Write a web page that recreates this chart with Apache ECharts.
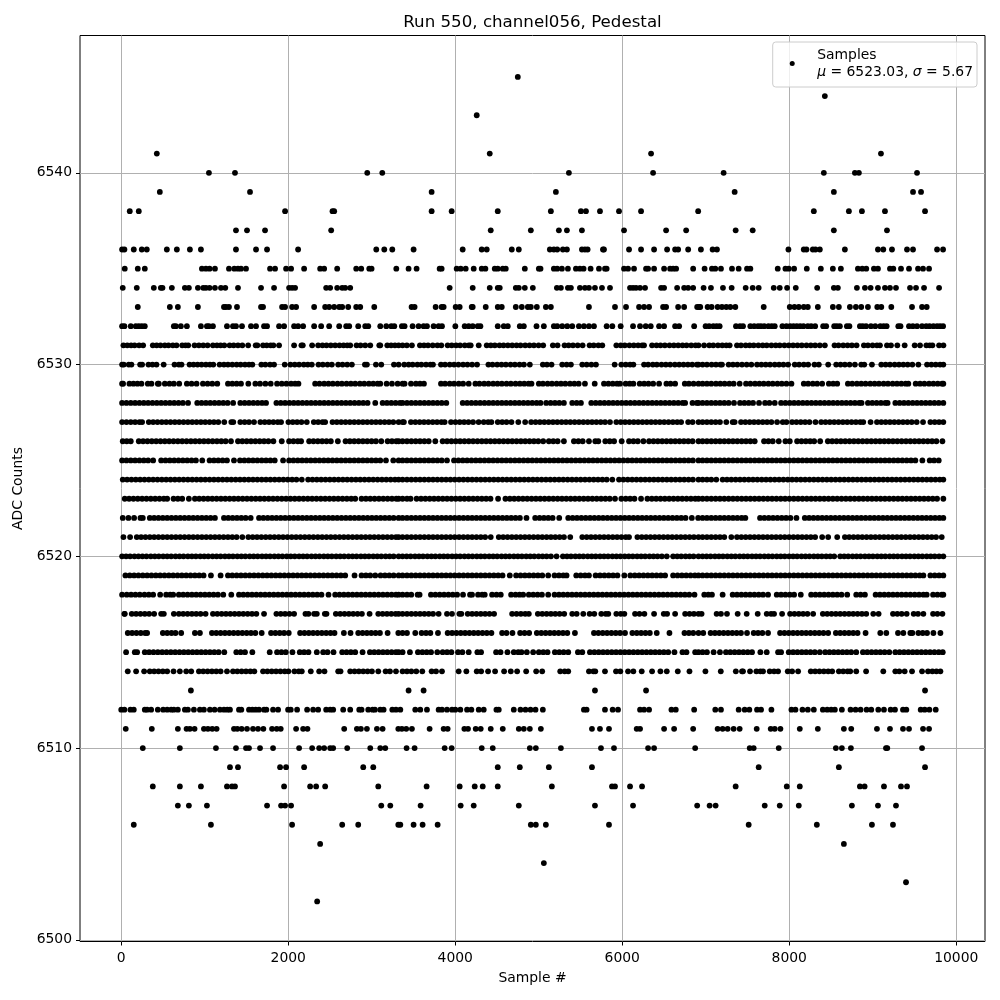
<!DOCTYPE html>
<html><head><meta charset="utf-8">
<script src="https://cdn.jsdelivr.net/npm/echarts@6/dist/echarts.min.js"></script>
<style>html,body{margin:0;padding:0;background:#fff}#c{width:1000px;height:1000px}</style>
</head><body><div id="c"></div>
<script>
const chartTitle = "Run 550, channel056, Pedestal";
const xTicks = [0,2000,4000,6000,8000,10000];
const yTicks = [6500,6510,6520,6530,6540];
const s6545=[4749];
const s6544=[8426];
const s6543=[4257];
const s6541=[426,4413,6345,9098];
const s6540=[1050,1362,2946,3126,5361,6369,7214,8414,8786,8834,9530];
const s6539=[462,1542,3717,5205,7346,8534,9482,9578];
const s6538=[102,210,1962,2530,2550,3717,3957,4509,5145,5505,5565,5733,5961,6225,6909,8294,8714,8870,9146,9626];
const s6537=[1374,1506,1722,2514,4425,4905,5241,5337,5517,6021,6525,6765,7358,7562,8534,9170];
const s6536=[10,38,150,246,306,546,666,822,954,1374,1614,1746,2118,3054,3150,3246,3501,4089,4317,4377,4677,4761,5133,5181,5221,5289,5337,5517,5553,5585,5769,5781,6081,6225,6381,6537,6633,6669,6789,6942,7082,7134,7990,8174,8206,8282,8314,8366,8666,9062,9126,9230,9410,9482,9770,9842];
const s6535=[42,198,282,966,1014,1058,1122,1290,1354,1398,1434,1494,1782,1842,1974,2034,2190,2382,2430,2586,2814,2874,2970,2998,3294,3441,3537,3813,3837,4017,4065,4125,4221,4317,4361,4473,4509,4569,4605,4833,5001,5021,5181,5221,5277,5349,5445,5493,5537,5621,5721,5793,5813,6021,6069,6141,6285,6309,6381,6501,6573,6609,6645,6849,6986,7074,7114,7182,7314,7394,7494,7534,7862,7954,7994,8058,8210,8378,8522,8618,8822,8874,8922,9014,9062,9206,9246,9338,9434,9542,9602,9674];
const s6534=[18,186,390,474,494,606,762,810,918,982,1014,1058,1122,1194,1246,1398,1674,1830,2010,2046,2082,2454,2502,2586,2646,2682,2742,3933,4209,4413,4509,4533,4725,4761,4833,4929,5217,5265,5349,5385,5493,5553,5601,5673,5757,5853,6093,6129,6165,6213,6273,6465,6501,6657,6741,6789,6849,6974,7062,7206,7310,7478,7562,7634,7814,7886,7974,8078,8334,8534,8582,8810,8906,8974,9062,9146,9206,9278,9446,9518,9614,9794];
const s6533=[198,582,678,918,1230,1254,1290,1386,1674,1698,1926,1962,2046,2094,2310,2442,2490,2550,2610,2646,2718,2814,2862,3030,3477,3513,3765,3837,3861,4005,4053,4197,4209,4365,4509,4557,4725,4797,4869,4905,4977,5085,5145,5601,5913,6045,6201,6261,6321,6489,6525,6669,6741,6897,6921,6934,7022,7070,7142,7194,7246,7294,7354,7694,8006,8062,8114,8174,8222,8342,8522,8594,8726,8798,8862,8942,9054,9102,9222,9470,9590,9646];
const s6532=[10,38,114,174,210,246,282,630,654,714,786,954,1026,1050,1098,1266,1338,1374,1446,1554,1614,1710,1746,1890,1950,2070,2118,2178,2310,2394,2490,2610,2694,2730,2838,2922,2958,3102,3174,3234,3270,3361,3393,3489,3561,3621,3661,3741,3801,3841,4001,4113,4161,4209,4269,4301,4509,4581,4629,4773,4821,4973,5061,5181,5221,5281,5341,5401,5481,5541,5601,5661,5813,5881,5981,6129,6213,6281,6341,6441,6501,6633,6681,6861,6998,7040,7090,7130,7166,7362,7410,7446,7534,7580,7626,7660,7700,7750,7790,7826,7918,7966,8010,8050,8090,8130,8170,8222,8262,8310,8406,8442,8538,8570,8606,8690,8720,8846,8880,8920,8978,9030,9090,9130,9166,9306,9332,9434,9480,9530,9590,9640,9680,9726,9770,9806,9842];
const s6531=[26,72,118,160,214,262,378,424,470,522,566,618,662,730,770,802,878,930,982,1034,1098,1146,1190,1234,1298,1346,1398,1450,1520,1610,1630,1698,1742,1790,1822,1890,2070,2158,2174,2286,2358,2410,2458,2510,2562,2614,2662,2706,2742,2818,2866,2922,2982,3090,3102,3186,3232,3278,3322,3369,3420,3481,3577,3626,3674,3730,3786,3833,3909,3958,4010,4058,4114,4162,4185,4281,4377,4426,4474,4530,4578,4630,4682,4734,4782,4838,4890,4942,4998,5053,5169,5225,5309,5358,5410,5466,5525,5609,5658,5714,5761,5929,5982,6030,6086,6138,6190,6238,6261,6357,6410,6458,6510,6566,6618,6670,6722,6770,6826,6878,6913,6980,7042,7090,7146,7198,7246,7286,7374,7422,7478,7526,7574,7630,7682,7730,7786,7838,7886,7942,7994,8046,8098,8150,8206,8258,8310,8366,8426,8542,8590,8646,8698,8750,8806,8894,8942,8998,9050,9086,9170,9218,9294,9382,9502,9566,9642,9682,9714,9794,9846];
const s6530=[10,30,90,122,226,250,326,374,422,508,638,690,722,818,866,914,962,1014,1062,1102,1178,1230,1278,1330,1382,1430,1482,1530,1570,1678,1726,1782,1830,1958,2026,2078,2130,2186,2234,2282,2362,2414,2470,2522,2598,2650,2706,2762,2918,2942,3050,3114,3266,3322,3389,3442,3490,3546,3594,3650,3702,3733,3829,3878,3934,3986,4038,4094,4146,4202,4261,4397,4446,4502,4554,4606,4662,4714,4770,4822,4893,5049,5098,5153,5281,5334,5385,5521,5574,5630,5685,5909,5989,6042,6094,6133,6261,6310,6366,6414,6470,6522,6574,6630,6682,6734,6786,6838,6894,6913,6962,7014,7070,7122,7174,7194,7274,7326,7378,7434,7490,7546,7614,7666,7718,7770,7826,7878,7930,7986,8066,8118,8174,8226,8302,8354,8466,8562,8614,8666,8722,8786,8862,8898,8990,9102,9154,9206,9262,9314,9366,9418,9474,9546,9650,9702,9754,9806,9845];
const s6529=[10,22,98,146,194,242,318,362,438,450,522,578,630,694,786,842,902,978,1034,1090,1150,1278,1330,1382,1434,1522,1606,1662,1726,1790,1866,1922,1978,2034,2082,2122,2322,2374,2430,2482,2534,2590,2642,2698,2750,2802,2858,2910,2966,3018,3070,3102,3178,3242,3310,3369,3393,3470,3529,3578,3625,3829,3878,3934,3986,4042,4094,4161,4241,4290,4346,4398,4454,4506,4558,4614,4666,4722,4774,4826,4878,4913,5001,5050,5106,5158,5214,5266,5318,5374,5426,5478,5553,5670,5781,5834,5886,5938,5973,6041,6090,6133,6209,6262,6314,6370,6441,6529,6578,6633,6749,6798,6854,6913,6962,7014,7066,7122,7174,7226,7282,7334,7406,7482,7534,7590,7642,7694,7750,7802,7858,7910,7966,8026,8174,8226,8282,8334,8394,8474,8526,8574,8702,8754,8810,8862,8914,8970,9022,9074,9130,9182,9238,9290,9342,9394,9426,9514,9566,9618,9674,9726,9778,9830,9845];
const s6528=[10,62,114,166,218,270,322,374,426,478,530,582,634,686,738,800,910,962,1014,1066,1118,1170,1222,1274,1340,1426,1478,1530,1582,1634,1686,1734,1858,1910,1962,2014,2066,2118,2170,2222,2274,2326,2378,2430,2482,2534,2586,2638,2690,2742,2794,2846,2898,2950,3042,3130,3182,3234,3286,3338,3369,3422,3474,3526,3578,3630,3682,3734,3786,3838,3893,4089,4142,4194,4246,4298,4350,4402,4454,4506,4558,4610,4662,4714,4766,4818,4870,4922,4974,5021,5089,5142,5194,5246,5301,5401,5454,5505,5629,5682,5734,5786,5838,5890,5942,5994,6046,6098,6150,6202,6254,6306,6358,6410,6462,6514,6566,6618,6670,6722,6753,6841,6894,6913,6962,7014,7066,7118,7170,7222,7274,7338,7410,7462,7514,7566,7638,7710,7762,7826,7902,7954,8006,8058,8110,8162,8214,8266,8318,8370,8422,8474,8526,8578,8630,8682,8734,8786,8838,8866,8942,8994,9046,9098,9150,9178,9270,9322,9374,9426,9478,9530,9582,9634,9686,9738,9790,9845];
const s6527=[10,62,114,166,218,250,330,382,434,486,538,590,642,694,746,798,850,902,954,1006,1058,1110,1162,1234,1318,1342,1426,1478,1530,1590,1666,1718,1770,1822,1874,1914,2002,2054,2106,2158,2222,2306,2358,2410,2442,2530,2582,2634,2686,2738,2790,2842,2894,2946,2998,3050,3102,3154,3206,3258,3322,3369,3385,3469,3522,3574,3626,3678,3730,3782,3834,3873,3949,4002,4054,4106,4158,4213,4280,4341,4394,4433,4509,4562,4614,4673,4755,4837,4909,4962,5014,5066,5118,5170,5222,5274,5326,5378,5430,5482,5534,5586,5638,5690,5742,5794,5853,5929,5982,6034,6086,6138,6190,6242,6294,6346,6398,6450,6502,6554,6606,6658,6705,6789,6842,6913,6962,7014,7066,7118,7170,7246,7322,7346,7422,7474,7526,7578,7630,7682,7734,7786,7854,7922,7966,8034,8086,8138,8190,8242,8314,8382,8434,8486,8538,8590,8642,8694,8746,8798,8850,8886,8974,9050,9102,9154,9206,9258,9310,9362,9414,9466,9526,9602,9690,9742,9794,9845];
const s6526=[18,66,114,210,262,314,366,418,470,522,574,626,678,730,782,834,886,938,990,1042,1094,1146,1198,1250,1314,1398,1450,1502,1554,1606,1658,1710,1762,1822,1922,2010,2062,2114,2154,2250,2302,2354,2406,2458,2510,2594,2686,2738,2790,2842,2894,2946,2998,3050,3114,3190,3242,3294,3322,3369,3422,3474,3526,3578,3630,3682,3761,3849,3902,3954,4006,4058,4110,4162,4214,4266,4318,4370,4422,4474,4526,4578,4630,4682,4734,4786,4838,4890,4942,4994,5053,5121,5174,5226,5301,5421,5474,5526,5601,5677,5713,5797,5850,5902,5993,6081,6134,6186,6253,6321,6374,6426,6478,6530,6582,6634,6686,6738,6790,6842,6913,6962,7014,7066,7118,7170,7222,7274,7326,7378,7430,7482,7534,7586,7698,7750,7802,7874,7954,8006,8094,8146,8198,8250,8298,8370,8462,8514,8566,8618,8670,8722,8774,8826,8878,8930,8982,9034,9086,9138,9190,9242,9294,9346,9398,9450,9502,9554,9606,9658,9710,9762,9834];
const s6525=[10,62,114,166,218,270,322,382,478,530,582,634,686,738,790,842,894,970,1058,1110,1162,1214,1266,1350,1422,1474,1526,1578,1630,1682,1734,1786,1838,1938,2010,2062,2114,2166,2218,2270,2322,2374,2426,2478,2530,2582,2634,2686,2738,2790,2842,2894,2946,2998,3050,3102,3170,3258,3322,3369,3422,3474,3526,3578,3630,3682,3734,3786,3838,3901,3985,4038,4090,4142,4194,4246,4298,4350,4402,4454,4506,4558,4610,4662,4714,4766,4818,4870,4922,4974,5026,5078,5130,5182,5234,5286,5338,5390,5442,5494,5546,5598,5650,5702,5754,5806,5858,5910,5962,6014,6066,6118,6170,6222,6274,6326,6378,6430,6482,6534,6586,6638,6690,6742,6794,6846,6913,6962,7014,7066,7118,7170,7222,7274,7326,7378,7430,7482,7534,7586,7638,7690,7742,7794,7846,7898,7950,8002,8054,8106,8158,8210,8262,8314,8366,8418,8470,8522,8574,8626,8678,8730,8782,8834,8886,8938,8990,9042,9094,9146,9198,9250,9302,9354,9406,9458,9510,9594,9682,9734,9790];
const s6524=[18,70,122,174,226,278,330,382,434,486,538,590,642,694,746,798,850,902,954,1006,1058,1110,1162,1214,1266,1318,1370,1422,1474,1526,1578,1630,1682,1734,1786,1838,1890,1942,1994,2046,2098,2162,2238,2290,2342,2394,2446,2498,2550,2602,2654,2706,2758,2810,2862,2914,2966,3018,3070,3122,3174,3226,3278,3322,3369,3422,3474,3526,3578,3630,3682,3734,3786,3838,3890,3942,3994,4046,4098,4150,4202,4254,4306,4358,4410,4462,4514,4566,4618,4670,4722,4774,4826,4878,4930,4982,5034,5086,5138,5190,5242,5294,5346,5398,5450,5502,5554,5606,5658,5710,5762,5814,5881,5961,6014,6066,6118,6170,6222,6274,6326,6378,6430,6482,6534,6586,6638,6690,6742,6794,6846,6913,6962,7014,7066,7126,7202,7254,7306,7358,7410,7462,7514,7566,7618,7670,7722,7774,7826,7878,7930,7982,8034,8086,8138,8190,8242,8294,8346,8398,8450,8502,8554,8606,8658,8710,8762,8814,8866,8918,8970,9022,9074,9126,9178,9230,9282,9334,9386,9438,9490,9542,9594,9646,9698,9750,9802,9845];
const s6523=[42,94,146,198,250,302,354,406,458,510,550,626,678,730,810,882,934,986,1038,1090,1142,1194,1246,1298,1350,1402,1454,1506,1558,1610,1662,1714,1766,1818,1870,1922,1974,2026,2078,2130,2182,2234,2286,2338,2390,2442,2494,2546,2598,2650,2702,2754,2802,2878,2930,2982,3034,3086,3138,3190,3242,3294,3322,3369,3422,3465,3537,3590,3642,3694,3746,3798,3850,3902,3954,4006,4058,4110,4162,4214,4266,4318,4370,4422,4513,4601,4654,4706,4758,4810,4862,4914,4966,5018,5070,5122,5174,5226,5278,5330,5382,5434,5486,5538,5590,5642,5694,5746,5798,5850,5913,5989,6042,6094,6146,6225,6301,6354,6406,6458,6510,6562,6614,6666,6718,6770,6822,6874,6913,6962,7014,7066,7118,7170,7222,7274,7326,7378,7430,7482,7534,7586,7638,7690,7742,7794,7846,7898,7950,8002,8054,8106,8158,8210,8262,8314,8366,8418,8470,8522,8574,8626,8678,8730,8782,8834,8886,8938,8990,9042,9094,9146,9198,9250,9302,9354,9406,9458,9510,9562,9614,9666,9718,9770,9845];
const s6522=[18,86,154,230,258,342,394,446,498,550,602,654,706,758,810,862,914,966,1018,1070,1122,1230,1282,1334,1386,1438,1490,1550,1650,1702,1754,1806,1858,1910,1962,2014,2066,2118,2170,2222,2274,2326,2378,2430,2482,2534,2586,2638,2690,2742,2794,2846,2898,2950,3002,3054,3106,3158,3210,3262,3322,3369,3422,3474,3526,3578,3630,3682,3734,3786,3838,3890,3942,3994,4046,4098,4150,4202,4254,4306,4358,4410,4462,4514,4566,4618,4670,4722,4774,4853,4957,5010,5062,5114,5166,5245,5353,5406,5458,5510,5562,5614,5666,5718,5770,5822,5874,5926,5978,6030,6082,6134,6186,6238,6290,6342,6394,6446,6498,6550,6602,6654,6706,6758,6833,6909,6962,7014,7066,7118,7170,7222,7274,7326,7378,7430,7474,7650,7702,7754,7806,7858,7910,7962,8014,8086,8186,8238,8290,8342,8394,8446,8498,8550,8602,8654,8706,8758,8810,8862,8914,8966,9018,9070,9122,9174,9226,9278,9330,9382,9434,9486,9538,9590,9642,9694,9746,9798,9845];
const s6521=[26,106,186,238,290,342,394,446,498,550,602,654,706,758,810,862,914,966,1018,1070,1122,1174,1226,1278,1330,1382,1450,1522,1574,1626,1678,1730,1782,1834,1886,1938,1990,2042,2094,2146,2198,2250,2302,2354,2406,2458,2510,2562,2614,2666,2718,2770,2822,2874,2926,2978,3030,3082,3134,3186,3238,3290,3322,3369,3422,3474,3526,3578,3630,3682,3734,3786,3838,3890,3942,3994,4046,4098,4150,4202,4254,4306,4358,4425,4521,4574,4626,4678,4730,4782,4834,4886,4938,4990,5042,5094,5146,5198,5250,5302,5377,5521,5574,5626,5678,5730,5782,5834,5886,5938,5990,6042,6081,6181,6234,6286,6338,6390,6442,6494,6546,6598,6650,6702,6754,6806,6858,6913,6962,7014,7066,7118,7170,7222,7306,7374,7426,7478,7530,7582,7634,7686,7738,7790,7842,7894,7946,7998,8050,8102,8154,8206,8258,8310,8394,8466,8574,8666,8718,8770,8822,8874,8926,8978,9030,9082,9134,9186,9238,9290,9342,9394,9446,9498,9550,9602,9654,9706,9758,9826];
const s6520=[10,58,106,158,206,254,302,354,402,450,502,550,598,650,698,746,798,846,894,946,994,1042,1094,1142,1190,1242,1290,1338,1390,1438,1486,1538,1586,1634,1686,1734,1782,1834,1882,1930,1982,2030,2078,2130,2178,2226,2278,2326,2374,2426,2474,2522,2574,2622,2670,2722,2770,2818,2870,2918,2966,3018,3066,3114,3166,3214,3262,3322,3369,3418,3466,3518,3566,3614,3666,3714,3762,3814,3862,3910,3962,4010,4058,4110,4158,4206,4258,4306,4354,4406,4454,4502,4554,4602,4650,4702,4750,4798,4850,4898,4946,4998,5046,5094,5146,5213,5289,5338,5386,5438,5486,5534,5586,5634,5682,5734,5782,5830,5882,5930,5978,6030,6078,6126,6178,6226,6274,6326,6374,6422,6474,6533,6609,6658,6706,6758,6806,6854,6913,6962,7010,7058,7110,7158,7206,7258,7306,7354,7406,7454,7502,7554,7602,7650,7702,7750,7798,7850,7898,7946,7998,8046,8094,8146,8194,8242,8294,8342,8390,8442,8490,8538,8610,8658,8706,8758,8806,8854,8906,8954,9002,9054,9102,9150,9202,9250,9298,9350,9398,9446,9498,9546,9594,9646,9694,9742,9794,9845];
const s6519=[50,102,154,206,258,310,362,414,466,518,570,622,674,726,778,830,882,934,986,1074,1190,1278,1330,1382,1434,1486,1538,1590,1642,1694,1746,1798,1850,1902,1954,2006,2058,2110,2162,2214,2266,2318,2370,2422,2474,2526,2578,2630,2682,2794,2878,2930,2982,3042,3106,3158,3210,3262,3322,3369,3422,3474,3526,3578,3630,3682,3734,3786,3838,3890,3942,3994,4046,4098,4150,4202,4254,4306,4358,4410,4462,4514,4566,4653,4729,4782,4834,4886,4938,4990,5042,5113,5189,5242,5294,5333,5449,5502,5554,5601,5681,5734,5786,5838,5890,5942,6025,6097,6150,6202,6254,6306,6358,6410,6462,6513,6609,6662,6714,6766,6818,6870,6913,6962,7014,7066,7118,7170,7222,7274,7326,7378,7430,7482,7534,7586,7638,7690,7742,7794,7846,7898,7950,8002,8054,8106,8158,8210,8262,8314,8366,8418,8470,8522,8574,8626,8678,8730,8782,8834,8886,8938,8990,9042,9094,9146,9198,9250,9302,9354,9406,9458,9510,9562,9606,9690,9742,9794,9845];
const s6518=[10,66,118,170,222,278,330,382,466,538,586,622,690,742,794,846,898,950,1002,1054,1106,1158,1222,1318,1410,1462,1514,1566,1618,1670,1722,1774,1826,1878,1930,1982,2034,2086,2138,2190,2242,2294,2346,2398,2482,2562,2614,2666,2718,2770,2822,2874,2926,2978,3030,3082,3134,3186,3238,3290,3322,3369,3422,3473,3549,3573,3709,3762,3814,3866,3918,3970,4022,4093,4177,4201,4273,4322,4353,4441,4494,4545,4669,4722,4770,4813,4881,4934,4986,5038,5113,5189,5242,5294,5346,5398,5450,5502,5554,5606,5658,5710,5762,5814,5866,5918,5970,6022,6074,6126,6178,6230,6282,6334,6386,6438,6490,6542,6594,6646,6698,6750,6802,6865,6982,7030,7074,7202,7322,7374,7426,7478,7530,7582,7634,7686,7746,7850,7902,7954,8006,8058,8138,8262,8314,8366,8418,8470,8522,8574,8626,8694,8802,8854,8906,9034,9086,9138,9190,9242,9294,9346,9398,9450,9502,9554,9606,9646,9722,9774,9826,9845];
const s6517=[38,42,126,178,230,282,334,394,478,510,630,690,742,794,846,898,950,1010,1098,1150,1202,1254,1306,1358,1410,1462,1514,1566,1618,1710,1858,1910,1962,2014,2070,2206,2242,2310,2342,2438,2458,2570,2622,2674,2726,2778,2830,2882,2974,3078,3130,3182,3234,3286,3322,3369,3422,3474,3526,3578,3630,3682,3734,3801,3901,3961,4049,4073,4149,4202,4254,4306,4358,4410,4465,4681,4734,4786,4838,4881,4989,5042,5094,5146,5198,5250,5305,5401,5454,5533,5609,5665,5749,5802,5833,5929,5982,6025,6153,6206,6265,6381,6497,6537,6633,6753,6806,6858,6913,6950,7130,7182,7254,7382,7490,7622,7730,7782,7818,7914,8010,8062,8114,8166,8218,8286,8402,8454,8506,8558,8610,8662,8714,8766,8818,8870,8922,9006,9070,9242,9294,9346,9406,9490,9542,9606,9722,9774,9834];
const s6516=[78,130,182,234,286,310,498,550,602,650,718,882,942,1086,1138,1190,1242,1294,1346,1398,1450,1502,1554,1606,1682,1794,1846,1898,1950,2006,2142,2194,2246,2298,2350,2402,2454,2506,2554,2666,2746,2838,2890,2942,2994,3046,3098,3190,3318,3369,3422,3521,3597,3650,3702,3793,3909,3962,4014,4066,4118,4170,4222,4274,4326,4378,4433,4561,4614,4685,4777,4830,4885,4977,5030,5082,5134,5186,5238,5290,5342,5433,5661,5714,5766,5818,5870,5922,5974,6033,6121,6174,6226,6278,6330,6413,6565,6745,6798,6850,6913,6970,7058,7110,7162,7214,7266,7318,7370,7422,7494,7574,7626,7678,7746,7890,7942,7994,8046,8098,8150,8202,8254,8306,8358,8410,8466,8558,8610,8662,8714,8766,8818,8914,9090,9162,9302,9366,9450,9474,9546,9598,9650,9726,9810];
const s6515=[58,162,190,282,334,386,438,490,542,594,646,698,750,802,854,906,958,1010,1062,1114,1166,1234,1378,1430,1482,1570,1778,1866,1918,1970,2050,2138,2190,2242,2342,2418,2470,2542,2646,2698,2750,2802,2890,2978,3030,3082,3134,3186,3238,3290,3322,3369,3457,3553,3606,3658,3710,3785,3849,3902,3954,4033,4085,4161,4265,4309,4489,4542,4625,4701,4754,4793,4857,4933,5001,5054,5105,5193,5246,5298,5353,5469,5521,5613,5666,5718,5770,5822,5874,5926,5978,6030,6082,6134,6186,6238,6290,6342,6394,6446,6498,6550,6625,6721,6769,6873,6913,6962,7014,7094,7170,7242,7294,7346,7398,7450,7502,7554,7654,7730,7866,7902,7994,8046,8098,8150,8202,8254,8306,8366,8430,8482,8534,8586,8638,8690,8742,8802,8882,8934,8986,9038,9090,9142,9198,9270,9322,9374,9426,9478,9530,9582,9634,9686,9738,9790,9838];
const s6514=[78,178,274,342,394,446,498,550,626,702,778,838,930,982,1034,1086,1138,1190,1266,1338,1390,1442,1494,1546,1594,1698,1750,1802,1854,1906,1958,2002,2074,2126,2162,2270,2370,2434,2598,2626,2742,2794,2846,2898,2950,3002,3078,3166,3218,3290,3369,3422,3474,3533,3605,3717,3770,3841,4041,4133,4257,4310,4393,4477,4585,4665,4741,4849,4969,5041,5257,5310,5353,5601,5654,5677,5793,5925,5977,6069,6133,6233,6357,6457,6533,6665,6805,6996,7180,7360,7434,7446,7530,7606,7654,7686,7766,7818,7866,7982,8034,8106,8258,8310,8362,8414,8466,8514,8594,8646,8698,8730,8802,8920,9126,9270,9318,9382,9470,9590,9662,9714,9762,9810];
const s6513=[834,3441,3621,5673,6285,9626];
const s6512=[0,38,110,150,282,310,358,438,502,550,598,630,678,762,798,870,942,990,1062,1118,1182,1230,1270,1302,1410,1438,1530,1570,1610,1650,1710,1738,1818,1878,1998,2030,2106,2226,2298,2358,2454,2502,2538,2658,2742,2850,2878,2958,3010,3038,3102,3142,3246,3290,3342,3521,3581,3661,3801,3841,3901,3961,4001,4061,4141,4193,4281,4341,4493,4521,4701,4781,4841,4901,4961,5049,5541,5573,5793,5885,5949,6213,6261,6321,6589,6641,6861,7114,7182,7394,7466,7522,7614,7662,7786,8026,8074,8158,8222,8294,8402,8454,8502,8546,8630,8734,8794,8854,8926,8982,9066,9134,9214,9266,9362,9402,9574,9622,9678,9754];
const s6511=[54,366,678,782,822,878,990,1038,1090,1142,1350,1390,1442,1506,1578,1638,1702,1806,1862,1910,2094,2178,2230,2670,2822,2870,2942,3062,3130,3318,3361,3413,3481,3693,3861,3909,4109,4153,4245,4305,4425,4569,4761,4821,4893,5025,5637,5733,5841,6173,6213,6501,6621,6849,7142,7202,7262,7334,7406,7610,7778,7826,7894,8126,8342,8654,8742,9050,9206,9362,9434,9602,9674];
const s6510=[258,702,1134,1374,1494,1530,1662,1818,2130,2286,2370,2430,2502,2538,2706,2982,3102,3162,3417,3513,3873,3957,4317,4449,4893,4965,5265,5745,5901,6309,6381,6873,7526,7574,7874,8558,8630,8738,9158,9174,9590];
const s6509=[1302,1398,1902,1974,2190,2898,3018,4509,4773,5121,5637,7634,8594,9626];
const s6508=[378,702,954,1266,1326,1362,1950,2262,2334,2442,3078,3657,4053,4233,4329,4509,5157,5877,5913,6093,6237,7358,7970,8126,8846,8902,9134,9338,9410];
const s6507=[678,810,1026,1746,1914,1962,2034,3114,3222,3585,4065,4221,4761,5673,6129,6897,7046,7118,7706,7886,8114,8750,9062,9278];
const s6506=[150,1074,2046,2646,2838,3318,3342,3501,3609,3789,4905,4965,5085,5841,7514,8330,8990,9242];
const s6505=[2382,8654];
const s6504=[5061];
const s6503=[9398];
const s6502=[2346];

const levels = [
 [6545,s6545],[6544,s6544],[6543,s6543],[6541,s6541],[6540,s6540],[6539,s6539],[6538,s6538],[6537,s6537],[6536,s6536],
 [6535,s6535],[6534,s6534],[6533,s6533],[6532,s6532],[6531,s6531],[6530,s6530],[6529,s6529],[6528,s6528],[6527,s6527],
 [6526,s6526],[6525,s6525],[6524,s6524],[6523,s6523],[6522,s6522],[6521,s6521],[6520,s6520],[6519,s6519],[6518,s6518],
 [6517,s6517],[6516,s6516],[6515,s6515],[6514,s6514],[6513,s6513],[6512,s6512],[6511,s6511],[6510,s6510],[6509,s6509],
 [6508,s6508],[6507,s6507],[6506,s6506],[6505,s6505],[6504,s6504],[6503,s6503],[6502,s6502]
];
const points = [];
levels.forEach(([adc, xs]) => xs.forEach(x => points.push([x, adc])));

const font = '"DejaVu Sans"';
const chart = echarts.init(document.getElementById('c'), null, {renderer:'canvas'});
chart.setOption({
  animation:false,
  backgroundColor:'#fff',
  title:{text:chartTitle,left:527.5,top:9,textAlign:'center',textStyle:{fontFamily:font,fontSize:16.67,fontWeight:'normal',color:'#000'}},
  grid:{left:80,right:15,top:35.5,bottom:58.5,show:true,borderColor:'#000',borderWidth:1,backgroundColor:'transparent'},
  legend:{
    show:true,right:23,top:42,orient:'vertical',icon:'circle',
    itemWidth:40,itemHeight:5,
    padding:[6,4,8,17],
    backgroundColor:'rgba(255,255,255,0.8)',borderColor:'#cccccc',borderWidth:1,borderRadius:3,
    data:['Samples'],
    formatter:()=>'{n|Samples}\n{i|μ}{n| = 6523.03, }{i|σ}{n| = 5.67}',
    textStyle:{fontFamily:font,fontSize:13.9,color:'#000',rich:{
      n:{fontFamily:font,fontSize:13.9,lineHeight:17,color:'#000'},
      i:{fontFamily:font,fontSize:13.9,lineHeight:17,fontStyle:'italic',color:'#000'}
    }}
  },
  xAxis:{
    type:'value',min:-494,max:10344,
    name:'Sample #',nameLocation:'middle',nameGap:30,
    nameTextStyle:{fontFamily:font,fontSize:13.9,color:'#000'},
    axisLine:{show:false,onZero:false},
    axisTick:{show:true,length:4,lineStyle:{color:'#000',width:1},customValues:xTicks},
    axisLabel:{show:true,margin:10,fontFamily:font,fontSize:13.9,color:'#000',customValues:xTicks,formatter:v=>String(v)},
    splitLine:{show:true,lineStyle:{color:'#b0b0b0',width:1}}
  },
  yAxis:{
    type:'value',min:6499.91,max:6547.16,
    name:'ADC Counts',nameLocation:'middle',nameGap:50,
    nameTextStyle:{fontFamily:font,fontSize:13.9,color:'#000'},
    axisLine:{show:false,onZero:false},
    axisTick:{show:true,length:4,lineStyle:{color:'#000',width:1},customValues:yTicks},
    axisLabel:{show:true,margin:8,fontFamily:font,fontSize:13.9,color:'#000',customValues:yTicks,formatter:v=>String(v)},
    splitLine:{show:true,lineStyle:{color:'#b0b0b0',width:1}}
  },
  series:[{name:'Samples',type:'scatter',data:points,symbol:'circle',symbolSize:5.8,itemStyle:{color:'#000',opacity:1},large:false,clip:true,silent:true,z:3}]
});
</script></body></html>
